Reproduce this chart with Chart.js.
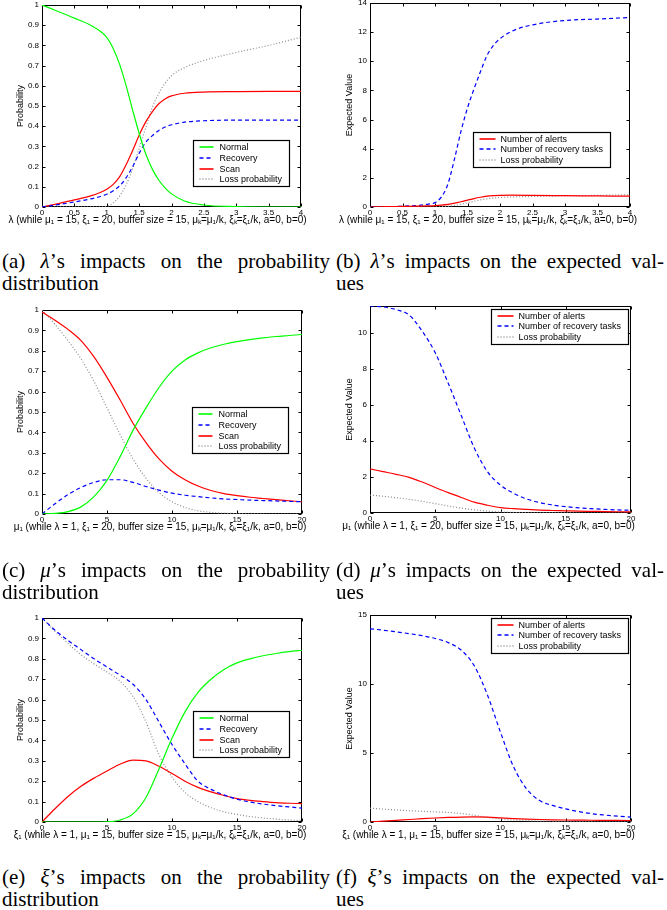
<!DOCTYPE html>
<html>
<head>
<meta charset="utf-8">
<script src="https://cdn.jsdelivr.net/npm/chart.js@4.4.1/dist/chart.umd.min.js"></script>
<style>
  html, body { margin: 0; padding: 0; background: #fff; }
  #page { position: relative; width: 667px; height: 910px; overflow: hidden; background: #fff; }
  #page canvas { position: absolute; }
  .cap { position: absolute; width: 328px; font-family: 'Liberation Serif', 'Times New Roman', serif;
         font-size: 21px; line-height: 22px; color: #000; }
  .cap .l1 { text-align: justify; text-align-last: justify; }
  .cap i { font-style: italic; }
</style>
</head>
<body>
<div id="page">
  <canvas id="ca"></canvas>
  <canvas id="cb"></canvas>
  <canvas id="cc"></canvas>
  <canvas id="cd"></canvas>
  <canvas id="ce"></canvas>
  <canvas id="cf"></canvas>
  <div class="cap" style="left:2px;top:250px"><div class="l1">(a) <i>λ</i>’s impacts on the probability</div><div>distribution</div></div>
  <div class="cap" style="left:336px;top:250px"><div class="l1">(b) <i>λ</i>’s impacts on the expected val-</div><div>ues</div></div>
  <div class="cap" style="left:2px;top:559px"><div class="l1">(c) <i>μ</i>’s impacts on the probability</div><div>distribution</div></div>
  <div class="cap" style="left:336px;top:559px"><div class="l1">(d) <i>μ</i>’s impacts on the expected val-</div><div>ues</div></div>
  <div class="cap" style="left:2px;top:866px"><div class="l1">(e) <i>ξ</i>’s impacts on the probability</div><div>distribution</div></div>
  <div class="cap" style="left:336px;top:866px"><div class="l1">(f) <i>ξ</i>’s impacts on the expected val-</div><div>ues</div></div>
</div>
<script>
// ---------------- data ----------------
const probLabels = ['Normal', 'Recovery', 'Scan', 'Loss probability'];
const expLabels = ['Number of alerts', 'Number of recovery tasks', 'Loss probability'];

const titleLambda = 'λ (while μ₁ = 15, ξ₁ = 20, buffer size = 15, μₖ=μ₁/k, ξₖ=ξ₁/k, a=0, b=0)';
const titleMu = 'μ₁ (while λ = 1, ξ₁ = 20, buffer size = 15, μₖ=μ₁/k, ξₖ=ξ₁/k, a=0, b=0)';
const titleXi = 'ξ₁ (while λ = 1, μ₁ = 15, buffer size = 15, μₖ=μ₁/k, ξₖ=ξ₁/k, a=0, b=0)';
const yTitleProb = 'Probability';
const yTitleExp = 'Expected Value';

const lambdaX   = [0, 0.25, 0.5, 0.75, 0.9, 1.0, 1.1, 1.2, 1.3, 1.4, 1.5, 1.6, 1.7, 1.8, 1.9, 2.0, 2.2, 2.5, 3.0, 3.5, 4.0];
const aNormal   = [1.0, 0.968, 0.935, 0.9, 0.87, 0.84, 0.785, 0.705, 0.6, 0.48, 0.365, 0.265, 0.19, 0.135, 0.095, 0.065, 0.03, 0.01, 0.002, 0, 0];
const aRecovery = [0, 0.012, 0.025, 0.04, 0.052, 0.063, 0.08, 0.105, 0.145, 0.2, 0.265, 0.32, 0.352, 0.378, 0.396, 0.407, 0.42, 0.427, 0.43, 0.43, 0.43];
const aScan     = [0, 0.017, 0.035, 0.055, 0.072, 0.088, 0.112, 0.15, 0.21, 0.28, 0.355, 0.42, 0.47, 0.51, 0.535, 0.55, 0.563, 0.569, 0.571, 0.572, 0.572];
const aLoss     = [0, 0, 0, 0, 0, 0.003, 0.02, 0.055, 0.11, 0.19, 0.29, 0.39, 0.49, 0.56, 0.612, 0.65, 0.69, 0.725, 0.765, 0.8, 0.84];
const bAlerts   = [0, 0.02, 0.04, 0.06, 0.08, 0.1, 0.13, 0.18, 0.26, 0.36, 0.47, 0.58, 0.67, 0.74, 0.78, 0.8, 0.81, 0.8, 0.78, 0.76, 0.74];
const bTasks    = [0, 0.02, 0.05, 0.12, 0.2, 0.3, 0.7, 1.6, 3.3, 5.2, 6.8, 8.1, 9.3, 10.4, 11.1, 11.55, 12.1, 12.5, 12.8, 12.9, 13.0];

const muX       = [0, 1, 2, 3, 4, 5, 6, 7, 8, 9, 10, 11, 12, 13, 14, 15, 16, 17, 18, 19, 20];
const cNormal   = [0, 0.003, 0.012, 0.035, 0.085, 0.165, 0.28, 0.41, 0.52, 0.62, 0.70, 0.755, 0.79, 0.815, 0.832, 0.845, 0.855, 0.863, 0.87, 0.875, 0.88];
const cRecovery = [0, 0.05, 0.095, 0.13, 0.155, 0.168, 0.168, 0.155, 0.135, 0.117, 0.102, 0.092, 0.085, 0.079, 0.074, 0.071, 0.068, 0.066, 0.064, 0.062, 0.06];
const cScan     = [0.99, 0.95, 0.905, 0.85, 0.77, 0.67, 0.56, 0.445, 0.35, 0.27, 0.21, 0.168, 0.137, 0.115, 0.1, 0.09, 0.082, 0.076, 0.07, 0.065, 0.06];
const cLoss     = [1.0, 0.93, 0.85, 0.76, 0.65, 0.52, 0.39, 0.27, 0.175, 0.105, 0.06, 0.032, 0.016, 0.008, 0.004, 0.002, 0.001, 0, 0, 0, 0];
const dAlerts   = [2.45, 2.3, 2.15, 1.98, 1.72, 1.42, 1.13, 0.86, 0.6, 0.43, 0.3, 0.24, 0.2, 0.16, 0.14, 0.12, 0.1, 0.09, 0.08, 0.07, 0.06];
const dTasks    = [11.5, 11.45, 11.3, 11.0, 10.1, 8.9, 7.2, 5.4, 3.6, 2.3, 1.55, 1.1, 0.78, 0.58, 0.44, 0.35, 0.29, 0.24, 0.2, 0.17, 0.15];

const xiX       = [0, 1, 2, 3, 4, 5, 6, 7, 8, 9, 10, 11, 12, 13, 14, 15, 16, 17, 18, 19, 20];
const eNormal   = [0, 0, 0, 0, 0, 0.001, 0.01, 0.04, 0.12, 0.26, 0.41, 0.54, 0.635, 0.7, 0.748, 0.78, 0.8, 0.815, 0.826, 0.835, 0.842];
const eRecovery = [1.0, 0.94, 0.89, 0.845, 0.8, 0.76, 0.72, 0.675, 0.6, 0.49, 0.38, 0.285, 0.2, 0.16, 0.133, 0.112, 0.098, 0.088, 0.08, 0.074, 0.068];
const eScan     = [0, 0.065, 0.125, 0.175, 0.215, 0.25, 0.283, 0.303, 0.3, 0.273, 0.238, 0.2, 0.17, 0.148, 0.13, 0.115, 0.106, 0.1, 0.095, 0.092, 0.09];
const eLoss     = [1.0, 0.935, 0.875, 0.82, 0.775, 0.735, 0.69, 0.615, 0.49, 0.33, 0.22, 0.145, 0.1, 0.07, 0.05, 0.037, 0.027, 0.02, 0.014, 0.01, 0.007];
const fAlerts   = [0, 0.06, 0.12, 0.18, 0.24, 0.29, 0.33, 0.36, 0.37, 0.35, 0.3, 0.25, 0.21, 0.18, 0.16, 0.145, 0.135, 0.125, 0.12, 0.115, 0.11];
const fTasks    = [14.0, 13.9, 13.78, 13.65, 13.5, 13.3, 13.0, 12.45, 11.3, 9.2, 6.5, 4.0, 2.4, 1.55, 1.2, 0.95, 0.75, 0.6, 0.5, 0.42, 0.35];

// ---------------- styles ----------------
const FONT = "'Liberation Sans', Arial, Helvetica, sans-serif";
Chart.defaults.font.family = FONT;
Chart.defaults.color = '#000';

const GREEN = { color: '#00ff00', dash: [] };
const BLUE  = { color: '#0000ff', dash: [4, 3] };
const RED   = { color: '#ff0000', dash: [] };
const GREY  = { color: '#8c8c8c', dash: [1, 2] };

function ds(label, xs, ys, st) {
  return {
    label: label,
    data: xs.map((x, i) => ({ x: x, y: ys[i] })),
    borderColor: st.color, borderDash: st.dash, borderWidth: 1.2,
    pointRadius: 0, fill: false, cubicInterpolationMode: 'monotone'
  };
}
const fmt = v => String(Number(v.toFixed(3)));

// frame (box + inward ticks)
const framePlugin = {
  id: 'frame',
  beforeDatasetsDraw(chart) {
    const { ctx, chartArea: a, scales } = chart;
    const L = Math.round(a.left) + 0.5, T = Math.round(a.top) + 0.5;
    const R = Math.round(a.right) - 0.5, B = Math.round(a.bottom) - 0.5;
    ctx.save();
    ctx.strokeStyle = '#000'; ctx.lineWidth = 1; ctx.setLineDash([]);
    ctx.strokeRect(L, T, R - L, B - T);
    ctx.beginPath();
    const tl = 3;
    scales.x.ticks.forEach(t => {
      const px = Math.round(scales.x.getPixelForValue(t.value)) + 0.5;
      ctx.moveTo(px, B); ctx.lineTo(px, B - tl);
      ctx.moveTo(px, T); ctx.lineTo(px, T + tl);
    });
    scales.y.ticks.forEach(t => {
      const py = Math.round(scales.y.getPixelForValue(t.value)) + 0.5;
      ctx.moveTo(L, py); ctx.lineTo(L + tl, py);
      ctx.moveTo(R, py); ctx.lineTo(R - tl, py);
    });
    ctx.stroke();
    ctx.restore();
  }
};

// boxed legend inside plot area
const legendPlugin = {
  id: 'boxLegend',
  afterDatasetsDraw(chart, args, o) {
    if (!o || o.x === undefined) return;
    const { ctx, chartArea: a } = chart;
    const dsets = chart.data.datasets;
    ctx.save();
    ctx.font = o.fontSize + 'px ' + FONT;
    const tw = Math.max(...dsets.map(d => ctx.measureText(d.label).width));
    const x0 = Math.round(a.left + o.x) + 0.5, y0 = Math.round(a.top + o.y) + 0.5;
    const w = Math.round(o.textX + tw + o.padRight);
    const h = Math.round(dsets.length * o.row + o.padV);
    ctx.fillStyle = '#fff'; ctx.fillRect(x0, y0, w, h);
    ctx.setLineDash([]); ctx.lineWidth = 1.2; ctx.strokeStyle = '#000';
    ctx.strokeRect(x0, y0, w, h);
    dsets.forEach((d, i) => {
      const cy = Math.round(y0 + o.first + i * o.row);
      ctx.strokeStyle = d.borderColor; ctx.lineWidth = 1.6;
      ctx.setLineDash(d.borderDash || []);
      ctx.beginPath(); ctx.moveTo(x0 + o.lineX0, cy); ctx.lineTo(x0 + o.lineX1, cy); ctx.stroke();
      ctx.setLineDash([]);
      ctx.fillStyle = '#000'; ctx.textBaseline = 'middle'; ctx.textAlign = 'left';
      ctx.fillText(d.label, x0 + o.textX, cy + 0.5);
    });
    ctx.restore();
  }
};

function build(id, s) {
  const c = document.getElementById(id);
  c.width = s.W; c.height = s.H;
  c.style.left = s.left + 'px'; c.style.top = s.top + 'px';
  c.style.width = s.W + 'px'; c.style.height = s.H + 'px';
  const A = s.area; // [left, top, right, bottom] in canvas px
  return new Chart(c, {
    type: 'line',
    data: { datasets: s.datasets },
    options: {
      responsive: false, animation: false, devicePixelRatio: 1,
      layout: { padding: { left: 0, top: A[1], right: s.W - A[2], bottom: 0 } },
      plugins: {
        legend: { display: false }, tooltip: { enabled: false },
        boxLegend: Object.assign({ fontSize: 9, row: 10.8, first: 6.5, padV: 2.5,
                                    lineX0: 6, lineX1: 20, textX: 26, padRight: 7 }, s.legend)
      },
      scales: {
        x: {
          type: 'linear', min: s.xmin, max: s.xmax,
          grid: { display: false, drawTicks: false }, border: { display: false },
          ticks: { stepSize: s.xstep, font: { size: 8 }, padding: 1, maxRotation: 0,
                   autoSkip: false, includeBounds: false, callback: fmt },
          title: { display: true, text: s.xtitle, font: { size: 10 }, padding: { top: 0, bottom: 0 } },
          afterFit(sc) { sc.height = s.H - A[3]; sc.paddingLeft = 0; sc.paddingRight = 0; }
        },
        y: {
          type: 'linear', min: s.ymin, max: s.ymax,
          grid: { display: false, drawTicks: false }, border: { display: false },
          ticks: { stepSize: s.ystep, font: { size: 8 }, padding: 3, autoSkip: false,
                   includeBounds: false, callback: fmt },
          title: { display: true, text: s.ytitle, font: { size: 9 }, padding: { top: s.ytitleOff, bottom: 0 } },
          afterFit(sc) { sc.width = A[0]; sc.paddingTop = 0; sc.paddingBottom = 0; }
        }
      }
    },
    plugins: [framePlugin, legendPlugin, {
      id: 'xTitleShift',
      afterLayout(ch) {
        const sc = ch.scales.x;
        if (sc._shiftPatched) return;
        sc._shiftPatched = true;
        const orig = Object.getPrototypeOf(sc).drawTitle;
        sc.drawTitle = function () {
          const l = this.left, r = this.right;
          this.left = l - s.titleShift - 60; this.right = r - s.titleShift + 60;
          orig.call(this);
          this.left = l; this.right = r;
        };
      }
    }]
  });
}

// (a)
build('ca', {
  left: 0, top: 0, W: 334, H: 226, area: [42, 5, 301, 207],
  xmin: 0, xmax: 4, xstep: 0.5, ymin: 0, ymax: 1, ystep: 0.1,
  xtitle: titleLambda, ytitle: yTitleProb, ytitleOff: 15, titleShift: 14,
  datasets: [ds(probLabels[0], lambdaX, aNormal, GREEN), ds(probLabels[1], lambdaX, aRecovery, BLUE),
             ds(probLabels[2], lambdaX, aScan, RED), ds(probLabels[3], lambdaX, aLoss, GREY)],
  legend: { x: 151, y: 135 }
});
// (b)
build('cb', {
  left: 334, top: 0, W: 333, H: 226, area: [36, 3, 296, 207],
  xmin: 0, xmax: 4, xstep: 0.5, ymin: 0, ymax: 14, ystep: 2,
  xtitle: titleLambda, ytitle: yTitleExp, ytitleOff: 10.5, titleShift: 12,
  datasets: [ds(expLabels[0], lambdaX, bAlerts, RED), ds(expLabels[1], lambdaX, bTasks, BLUE),
             ds(expLabels[2], lambdaX, aLoss, GREY)],
  legend: { x: 103, y: 129, lineX1: 22, textX: 27, first: 6 }
});
// (c)
build('cc', {
  left: 0, top: 300, W: 334, H: 233, area: [42, 10, 302, 214],
  xmin: 0, xmax: 20, xstep: 5, ymin: 0, ymax: 1, ystep: 0.1,
  xtitle: titleMu, ytitle: yTitleProb, ytitleOff: 15, titleShift: 12,
  datasets: [ds(probLabels[0], muX, cNormal, GREEN), ds(probLabels[1], muX, cRecovery, BLUE),
             ds(probLabels[2], muX, cScan, RED), ds(probLabels[3], muX, cLoss, GREY)],
  legend: { x: 150, y: 97 }
});
// (d)
build('cd', {
  left: 334, top: 300, W: 333, H: 232, area: [36, 6, 297, 213],
  xmin: 0, xmax: 20, xstep: 5, ymin: 0, ymax: 11.5, ystep: 2,
  xtitle: titleMu, ytitle: yTitleExp, ytitleOff: 10.5, titleShift: 12,
  datasets: [ds(expLabels[0], muX, dAlerts, RED), ds(expLabels[1], muX, dTasks, BLUE),
             ds(expLabels[2], muX, cLoss, GREY)],
  legend: { x: 121, y: 3, lineX1: 22, textX: 27, first: 6 }
});
// (e)
build('ce', {
  left: 0, top: 600, W: 334, H: 241, area: [42, 18, 302, 222],
  xmin: 0, xmax: 20, xstep: 5, ymin: 0, ymax: 1, ystep: 0.1,
  xtitle: titleXi, ytitle: yTitleProb, ytitleOff: 15, titleShift: 12,
  datasets: [ds(probLabels[0], xiX, eNormal, GREEN), ds(probLabels[1], xiX, eRecovery, BLUE),
             ds(probLabels[2], xiX, eScan, RED), ds(probLabels[3], xiX, eLoss, GREY)],
  legend: { x: 151, y: 93 }
});
// (f)
build('cf', {
  left: 334, top: 600, W: 333, H: 241, area: [36, 15, 297, 222],
  xmin: 0, xmax: 20, xstep: 5, ymin: 0, ymax: 15, ystep: 5,
  xtitle: titleXi, ytitle: yTitleExp, ytitleOff: 10.5, titleShift: 12,
  datasets: [ds(expLabels[0], xiX, fAlerts, RED), ds(expLabels[1], xiX, fTasks, BLUE),
             ds(expLabels[2], xiX, eLoss, GREY)],
  legend: { x: 121, y: 3, lineX1: 22, textX: 27, first: 6 }
});
</script>
</body>
</html>
